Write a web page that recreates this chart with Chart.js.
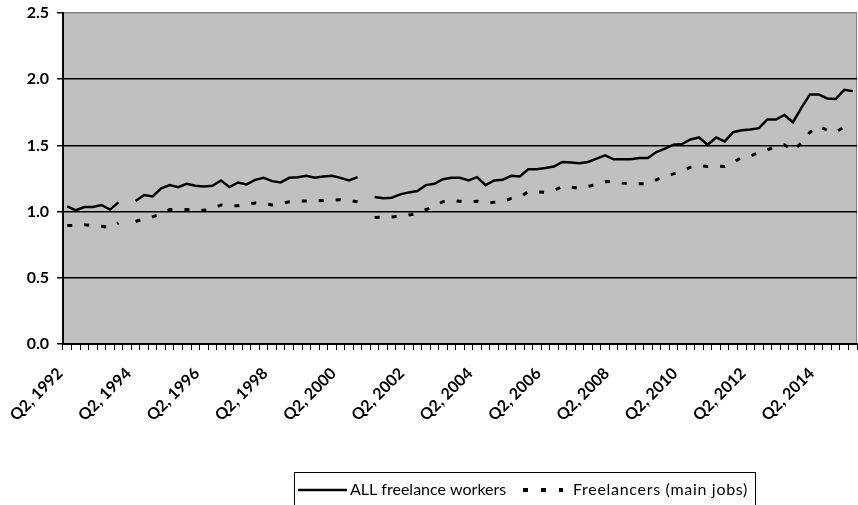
<!DOCTYPE html>
<html>
<head>
<meta charset="utf-8">
<script src="https://cdn.jsdelivr.net/npm/chart.js@4/dist/chart.umd.min.js"></script>
<style>
  html, body { margin: 0; padding: 0; background: #fff; }
  #c { display: block; }
</style>
</head>
<body>
<canvas id="c" width="858" height="505"></canvas>
<script>
// Quarterly categories, Q2 1992 .. Q2 2015
const QUARTERS = [
  "Q2, 1992", "Q3, 1992", "Q4, 1992",
  "Q1, 1993", "Q2, 1993", "Q3, 1993", "Q4, 1993",
  "Q1, 1994", "Q2, 1994", "Q3, 1994", "Q4, 1994",
  "Q1, 1995", "Q2, 1995", "Q3, 1995", "Q4, 1995",
  "Q1, 1996", "Q2, 1996", "Q3, 1996", "Q4, 1996",
  "Q1, 1997", "Q2, 1997", "Q3, 1997", "Q4, 1997",
  "Q1, 1998", "Q2, 1998", "Q3, 1998", "Q4, 1998",
  "Q1, 1999", "Q2, 1999", "Q3, 1999", "Q4, 1999",
  "Q1, 2000", "Q2, 2000", "Q3, 2000", "Q4, 2000",
  "Q1, 2001", "Q2, 2001", "Q3, 2001", "Q4, 2001",
  "Q1, 2002", "Q2, 2002", "Q3, 2002", "Q4, 2002",
  "Q1, 2003", "Q2, 2003", "Q3, 2003", "Q4, 2003",
  "Q1, 2004", "Q2, 2004", "Q3, 2004", "Q4, 2004",
  "Q1, 2005", "Q2, 2005", "Q3, 2005", "Q4, 2005",
  "Q1, 2006", "Q2, 2006", "Q3, 2006", "Q4, 2006",
  "Q1, 2007", "Q2, 2007", "Q3, 2007", "Q4, 2007",
  "Q1, 2008", "Q2, 2008", "Q3, 2008", "Q4, 2008",
  "Q1, 2009", "Q2, 2009", "Q3, 2009", "Q4, 2009",
  "Q1, 2010", "Q2, 2010", "Q3, 2010", "Q4, 2010",
  "Q1, 2011", "Q2, 2011", "Q3, 2011", "Q4, 2011",
  "Q1, 2012", "Q2, 2012", "Q3, 2012", "Q4, 2012",
  "Q1, 2013", "Q2, 2013", "Q3, 2013", "Q4, 2013",
  "Q1, 2014", "Q2, 2014", "Q3, 2014", "Q4, 2014",
  "Q1, 2015", "Q2, 2015"
];

// millions (null = no survey quarter)
const ALL_FREELANCE = [
  1.04, 1.01, 1.035,
  1.035, 1.05, 1.015, 1.07,
  null, 1.08, 1.125, 1.115,
  1.175, 1.20, 1.185, 1.21,
  1.195, 1.19, 1.195, 1.235,
  1.185, 1.22, 1.205, 1.24,
  1.255, 1.23, 1.22, 1.255,
  1.26, 1.27, 1.255, 1.265,
  1.27, 1.255, 1.235, 1.26,
  null, 1.11, 1.10, 1.105,
  1.13, 1.145, 1.155, 1.20,
  1.21, 1.245, 1.255, 1.255,
  1.235, 1.26, 1.20, 1.235,
  1.24, 1.27, 1.265, 1.32,
  1.32, 1.33, 1.34, 1.375,
  1.37, 1.365, 1.375, 1.40,
  1.425, 1.395, 1.395, 1.395,
  1.405, 1.405, 1.45, 1.475,
  1.505, 1.51, 1.545, 1.56,
  1.505, 1.56, 1.53, 1.60,
  1.615, 1.62, 1.63, 1.695,
  1.695, 1.73, 1.675, 1.785,
  1.885, 1.885, 1.855, 1.85,
  1.92, 1.91
];

const MAIN_JOBS = [
  0.895, 0.895, 0.90,
  0.895, 0.89, 0.88, 0.915,
  null, 0.925, 0.945, 0.96,
  0.985, 1.015, 1.015, 1.015,
  1.01, 1.01, 1.02, 1.05,
  1.045, 1.045, 1.055, 1.065,
  1.06, 1.05, 1.06, 1.075,
  1.08, 1.08, 1.08, 1.083,
  1.085, 1.09, 1.085, 1.075,
  null, 0.955, 0.958, 0.96,
  0.965, 0.975, 0.985, 1.015,
  1.04, 1.075, 1.085, 1.078,
  1.075, 1.078, 1.065, 1.07,
  1.075, 1.10, 1.11, 1.15,
  1.15, 1.145, 1.16, 1.19,
  1.185, 1.175, 1.19, 1.205,
  1.225, 1.23, 1.215, 1.21,
  1.21, 1.21, 1.24, 1.27,
  1.285, 1.305, 1.335, 1.35,
  1.34, 1.345, 1.34, 1.37,
  1.41, 1.42, 1.445, 1.465,
  1.495, 1.505, 1.46, 1.52,
  1.60, 1.645, 1.615, 1.60,
  1.64, 1.665
];

const Y_TICKS = [0, 0.5, 1.0, 1.5, 2.0, 2.5];
const LABEL_EVERY = 8;

const FONT = "Lato, 'Open Sans', sans-serif";
const DASH = [5, 12];

const plotBackground = {
  id: "plotBackground",
  beforeDraw(chart) {
    const a = chart.chartArea;
    const c = chart.ctx;
    c.save();
    c.fillStyle = "#c0c0c0";
    c.fillRect(a.left, a.top, a.right - a.left, a.bottom - a.top);
    c.strokeStyle = "#808080";
    c.lineWidth = 1;
    c.beginPath();
    c.moveTo(a.right - 0.5, a.top);
    c.lineTo(a.right - 0.5, a.bottom);
    c.stroke();
    c.restore();
  }
};

// legend drawn in a box below the axis labels, as in the original
const boxedLegend = {
  id: "boxedLegend",
  afterDraw(chart) {
    const c = chart.ctx;
    c.save();
    c.strokeStyle = "#000";
    c.lineWidth = 1;
    c.strokeRect(294.5, 472.5, 461, 40);

    c.lineWidth = 2.5;
    c.beginPath();
    c.moveTo(298, 490);
    c.lineTo(347, 490);
    c.stroke();

    c.lineWidth = 4;
    c.setLineDash([5, 13]);
    c.beginPath();
    c.moveTo(523, 490);
    c.lineTo(563, 490);
    c.stroke();
    c.setLineDash([]);

    c.fillStyle = "#000";
    c.font = "16px " + FONT;
    c.textBaseline = "middle";
    c.fillText(chart.data.datasets[0].label, 350, 490);
    c.letterSpacing = "0.7px";
    c.fillText(chart.data.datasets[1].label, 573, 490);
    c.restore();
  }
};

new Chart(document.getElementById("c"), {
  type: "line",
  data: {
    labels: QUARTERS,
    datasets: [
      {
        label: "ALL freelance workers",
        data: ALL_FREELANCE,
        borderColor: "#000",
        borderWidth: 2.5,
        pointRadius: 0,
        tension: 0,
        spanGaps: false,
      },
      {
        label: "Freelancers (main jobs)",
        data: MAIN_JOBS,
        borderColor: "#000",
        borderWidth: 3,
        borderDash: DASH,
        pointRadius: 0,
        tension: 0,
        spanGaps: false,
      },
    ],
  },
  options: {
    responsive: false,
    animation: false,
    layout: { padding: { top: 13, right: 1, left: 0, bottom: 0 } },
    plugins: {
      legend: { display: false },
      tooltip: { enabled: false },
    },
    scales: {
      x: {
        offset: true,
        grid: {
          offset: true,
          drawOnChartArea: false,
          drawTicks: true,
          tickLength: 6,
          color: "#000",
          lineWidth: 1,
        },
        border: { color: "#000", width: 2 },
        ticks: {
          autoSkip: false,
          maxRotation: 45,
          minRotation: 45,
          padding: 14,
          labelOffset: -7,
          color: "#000",
          font: { family: FONT, size: 16, weight: "bold" },
          callback: (v, i) => (i % LABEL_EVERY === 0 ? QUARTERS[i] : ""),
        },
        afterFit: (s) => {
          s.height = 161;
          s.paddingLeft = 0;
          s.paddingRight = 0;
        },
      },
      y: {
        min: 0,
        max: 2.5,
        afterBuildTicks: (s) => { s.ticks = Y_TICKS.map((v) => ({ value: v })); },
        ticks: {
          padding: 8,
          color: "#000",
          font: { family: FONT, size: 16, weight: "bold" },
          callback: (v) => Number(v).toFixed(1),
        },
        grid: {
          color: (ctx) => (ctx.tick && ctx.tick.value === 2.5 ? "#808080" : "#000"),
          tickColor: "#000",
          lineWidth: 1.5,
          tickLength: 6,
        },
        border: { color: "#000", width: 2 },
        afterFit: (s) => {
          s.width = 63;
          s.paddingTop = 0;
          s.paddingBottom = 0;
        },
      },
    },
  },
  plugins: [plotBackground, boxedLegend],
});
</script>
</body>
</html>
